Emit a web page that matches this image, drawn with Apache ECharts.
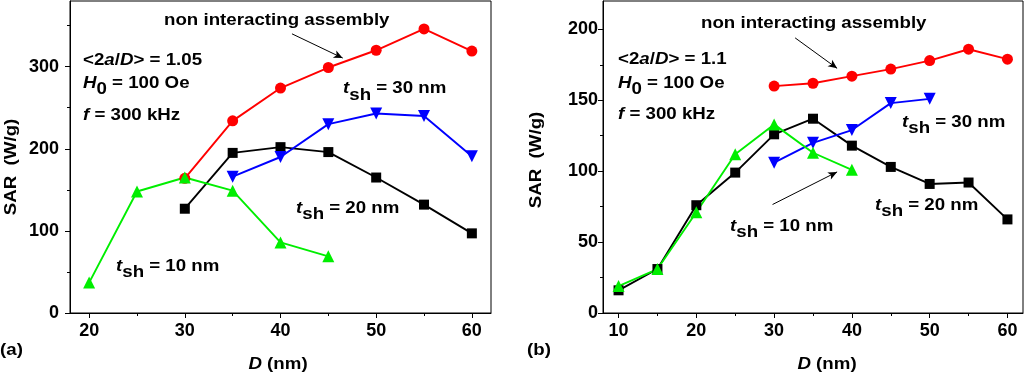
<!DOCTYPE html>
<html>
<head>
<meta charset="utf-8">
<script src="https://cdn.jsdelivr.net/npm/echarts@6/dist/echarts.min.js"></script>
<style>
  html, body { margin: 0; padding: 0; background: #fff; }
  #chart { width: 1024px; height: 375px; }
</style>
</head>
<body>
<div id="chart"></div>
<script>
// panel (a)
var aRedD = [30, 35, 40, 45, 50, 55, 60];
var aRedSAR = [164, 234, 274, 299, 320, 346, 319];
var aBlackD = [30, 35, 40, 45, 50, 55, 60];
var aBlackSAR = [127, 195, 202, 196, 165, 132, 97];
var aBlueD = [35, 40, 45, 50, 55, 60];
var aBlueSAR = [166, 190, 230, 243, 240, 191];
var aGreenD = [20, 25, 30, 35, 40, 45];
var aGreenSAR = [37, 148, 165, 149, 86, 69];
var aXTicks = [20, 30, 40, 50, 60];
var aXMinor = [25, 35, 45, 55];
var aYTicks = [0, 100, 200, 300];
var aYMinor = [50, 150, 250, 350];

// panel (b)
var bRedD = [30, 35, 40, 45, 50, 55, 60];
var bRedSAR = [160, 162, 167, 172, 178, 186, 179];
var bBlackD = [10, 15, 20, 25, 30, 35, 40, 45, 50, 55, 60];
var bBlackSAR = [16, 31, 76, 99, 126, 137, 118, 103, 91, 92, 66];
var bBlueD = [30, 35, 40, 45, 50];
var bBlueSAR = [106, 120, 129, 148, 151];
var bGreenD = [10, 15, 20, 25, 30, 35, 40];
var bGreenSAR = [19, 31, 71, 112, 133, 113, 101];
var bXTicks = [10, 20, 30, 40, 50, 60];
var bXMinor = [15, 25, 35, 45, 55];
var bYTicks = [0, 50, 100, 150, 200];
var bYMinor = [25, 75, 125, 175];

var FONT = '"Liberation Sans", Arial, sans-serif';

function zip(xs, ys) {
  return xs.map(function (x, i) { return [x, ys[i]]; });
}

function majorX(grid, min, max, ticks) {
  return {
    type: 'value', gridIndex: grid, min: min, max: max, position: 'bottom',
    axisLine: { show: true, onZero: false, lineStyle: { color: '#000', width: 1 } },
    axisTick: { show: true, inside: false, length: 5, customValues: ticks, lineStyle: { color: '#000' } },
    axisLabel: { customValues: ticks, margin: 9, color: '#000', fontSize: 18, fontWeight: 'bold', fontFamily: FONT },
    splitLine: { show: false }
  };
}
function minorX(grid, min, max, ticks) {
  return {
    type: 'value', gridIndex: grid, min: min, max: max, position: 'bottom',
    axisLine: { show: false, onZero: false },
    axisTick: { show: true, inside: false, length: 3, customValues: ticks, lineStyle: { color: '#000' } },
    axisLabel: { show: false },
    splitLine: { show: false }
  };
}
function majorY(grid, min, max, ticks, margin) {
  return {
    type: 'value', gridIndex: grid, min: min, max: max, position: 'left',
    axisLine: { show: true, onZero: false, lineStyle: { color: '#000', width: 1 } },
    axisTick: { show: true, inside: false, length: 5, customValues: ticks, lineStyle: { color: '#000' } },
    axisLabel: { customValues: ticks, margin: margin, color: '#000', fontSize: 18, fontWeight: 'bold', fontFamily: FONT },
    splitLine: { show: false }
  };
}
function minorY(grid, min, max, ticks) {
  return {
    type: 'value', gridIndex: grid, min: min, max: max, position: 'left',
    axisLine: { show: false, onZero: false },
    axisTick: { show: true, inside: false, length: 3, customValues: ticks, lineStyle: { color: '#000' } },
    axisLabel: { show: false },
    splitLine: { show: false }
  };
}

function line(xi, yi, data, color, symbol, size, extra) {
  var s = {
    type: 'line', xAxisIndex: xi, yAxisIndex: yi, data: data,
    symbol: symbol, symbolSize: size, showAllSymbol: true,
    lineStyle: { color: color, width: 1.9 },
    itemStyle: { color: color },
    animation: false, silent: true
  };
  if (symbol === 'triangle' && extra === 'down') s.symbolRotate = 180;
  return s;
}

function arrow(xi, yi, from, to) {
  return {
    type: 'line', xAxisIndex: xi, yAxisIndex: yi, data: [],
    animation: false, silent: true,
    markLine: {
      silent: true, animation: false,
      symbol: ['none', 'arrow'], symbolSize: [6, 9],
      lineStyle: { color: '#000', width: 1, type: 'solid' },
      label: { show: false },
      data: [[{ coord: from }, { coord: to }]]
    }
  };
}

var rich = {
  n: { fontSize: 17, fontWeight: 'bold', fontFamily: FONT, fill: '#000' },
  i: { fontSize: 17, fontWeight: 'bold', fontStyle: 'italic', fontFamily: FONT, fill: '#000' },
  s: { fontSize: 17, fontWeight: 'bold', fontFamily: FONT, fill: '#000', padding: [13, 0, 0, 0] }
};

// reference lettering is a little wider than it is tall
function txt(x, y, text, rot) {
  return {
    type: 'text', x: x, y: y, rotation: rot || 0, scaleX: 1.1,
    style: {
      text: text, rich: rich, fill: '#000',
      font: 'bold 17px ' + FONT,
      textAlign: rot !== undefined ? 'center' : 'left', textVerticalAlign: 'middle'
    }
  };
}

var chart = echarts.init(document.getElementById('chart'));
chart.setOption({
  backgroundColor: '#fff',
  animation: false,
  grid: [
    { left: 70, top: 1, width: 421, height: 312, show: true, borderColor: '#000', borderWidth: 1, backgroundColor: 'transparent' },
    { left: 603, top: 1, width: 420, height: 312, show: true, borderColor: '#000', borderWidth: 1, backgroundColor: 'transparent' }
  ],
  xAxis: [
    majorX(0, 18, 62, aXTicks), minorX(0, 18, 62, aXMinor),
    majorX(1, 8, 62, bXTicks), minorX(1, 8, 62, bXMinor)
  ],
  yAxis: [
    majorY(0, 0, 380, aYTicks, 11), minorY(0, 0, 380, aYMinor),
    majorY(1, 0, 220, bYTicks, 5), minorY(1, 0, 220, bYMinor)
  ],
  series: [
    line(0, 0, zip(aRedD, aRedSAR), '#ff0000', 'circle', 11),
    line(0, 0, zip(aBlackD, aBlackSAR), '#000000', 'rect', 10),
    line(0, 0, zip(aBlueD, aBlueSAR), '#0000ff', 'triangle', 12, 'down'),
    line(0, 0, zip(aGreenD, aGreenSAR), '#00ee00', 'triangle', 12),
    arrow(0, 0, [41.2, 340], [46.5, 310.5]),

    line(2, 2, zip(bRedD, bRedSAR), '#ff0000', 'circle', 11),
    line(2, 2, zip(bBlackD, bBlackSAR), '#000000', 'rect', 10),
    line(2, 2, zip(bBlueD, bBlueSAR), '#0000ff', 'triangle', 12, 'down'),
    line(2, 2, zip(bGreenD, bGreenSAR), '#00ee00', 'triangle', 12),
    arrow(2, 2, [32.7, 194], [38.1, 172.5]),
    arrow(2, 2, [29.8, 76.5], [38.1, 99.5])
  ],
  graphic: [
    txt(164, 20, '{n|non interacting assembly}'),
    txt(83, 60, '{n|<2}{i|a}{n|/}{i|D}{n|> = 1.05}'),
    txt(83, 83, '{i|H}{s|0}{n| = 100 Oe}'),
    txt(83, 115, '{i|f}{n| = 300 kHz}'),
    txt(343, 88.5, '{i|t}{s|sh}{n| = 30 nm}'),
    txt(296, 208, '{i|t}{s|sh}{n| = 20 nm}'),
    txt(116, 266, '{i|t}{s|sh}{n| = 10 nm}'),
    txt(11, 167, '{n|SAR  (W/g)}', Math.PI / 2),
    txt(278, 364, '{i|D}{n| (nm)}', 0),
    txt(0, 350, '{n|(a)}'),

    txt(701, 23, '{n|non interacting assembly}'),
    txt(618, 59, '{n|<2}{i|a}{n|/}{i|D}{n|> = 1.1}'),
    txt(618, 83, '{i|H}{s|0}{n| = 100 Oe}'),
    txt(618, 114, '{i|f}{n| = 300 kHz}'),
    txt(902, 122, '{i|t}{s|sh}{n| = 30 nm}'),
    txt(875, 205, '{i|t}{s|sh}{n| = 20 nm}'),
    txt(730, 226, '{i|t}{s|sh}{n| = 10 nm}'),
    txt(536, 160, '{n|SAR  (W/g)}', Math.PI / 2),
    txt(827, 364, '{i|D}{n| (nm)}', 0),
    txt(527, 350, '{n|(b)}')
  ]
});
</script>
</body>
</html>
